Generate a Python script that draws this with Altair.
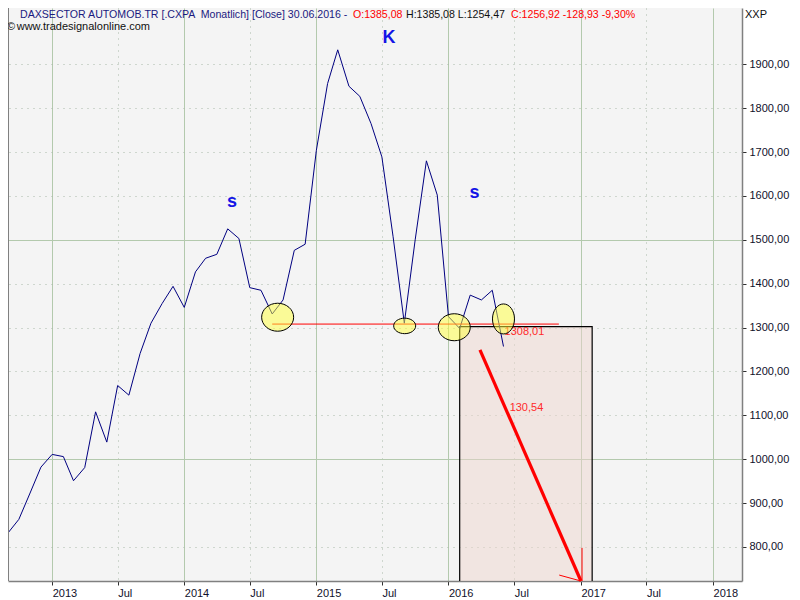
import altair as alt
import pandas as pd

# ---------------- data ----------------
MONTHS = pd.date_range("2012-09-01", "2016-06-01", freq="MS")
CLOSE = [832, 863, 923, 982, 1011, 1006, 951, 981, 1108, 1039, 1168, 1146,
         1241, 1310, 1355, 1394, 1346, 1427, 1458, 1467, 1525, 1503, 1391, 1385,
         1331, 1363, 1476, 1490, 1704, 1856, 1933, 1850, 1827, 1765, 1689, 1507,
         1310, 1500, 1680, 1602, 1325, 1298, 1374, 1363, 1385.08, 1256.92]

LEVEL_VALUE = 1308.01
LEVEL_SPAN = ["2014-09-01", "2016-11-01"]

BOX_SPAN = ["2016-02-01", "2017-02-01"]
BOX_VALUES = [1302, 650]

ARROW_DATES = ["2016-03-28", "2017-01-01"]
ARROW_VALUES = [1249, 722.5]
BARB_FROM_DATES = ["2017-01-01", "2017-01-04"]
BARB_FROM_VALUES = [722.5, 722.5]
BARB_TO_DATES = ["2016-11-02", "2017-01-04"]
BARB_TO_VALUES = [736, 798]

ELLIPSE_DATES = ["2014-09-16", "2015-09-02", "2016-01-17", "2016-06-01"]
ELLIPSE_VALUES = [1323.6, 1303.8, 1300.8, 1319.7]

PATTERN_LABELS = ["s", "K", "s"]
PATTERN_DATES = ["2014-05-13", "2015-07-21", "2016-03-13"]
PATTERN_VALUES = [1586, 1959, 1607]

VALUE_LABELS = ["1308,01", "130,54"]
VALUE_LABEL_DATES = ["2016-06-04", "2016-06-18"]
VALUE_LABEL_VALUES = [1291, 1116]

Y_TICKS = list(range(800, 2000, 100))
X_TICK_YEARS = [2013, 2014, 2015, 2016, 2017, 2018]

HEADER_PARTS = ["DAXSECTOR AUTOMOB.TR [.CXPA \u00a0Monatlich] [Close] 30.06.2016 -",
                "O:1385,08", "H:1385,08 L:1254,47", "C:1256,92 -128,93 -9,30%"]
COPYRIGHT = ["\u00a9", "www.tradesignalonline.com"]
UNIT_LABEL = "XXP"

# ---------------- styling ----------------
FONT = "Liberation Sans"
W, H = 734, 573

x_values = []
for yr in X_TICK_YEARS:
    x_values.append(alt.DateTime(year=yr, month=1, date=1))
    if yr < 2018:
        x_values.append(alt.DateTime(year=yr, month=7, date=1))

XSCALE = alt.Scale(domain=[alt.DateTime(year=2012, month=9, date=1),
                           alt.DateTime(year=2018, month=3, date=22)])
YSCALE = alt.Scale(domain=[722.5, 2028.3], nice=False, zero=False)

SOLID = "#b3c9ad"
DOTS = "#a9b9a9"

XAXIS = alt.Axis(
    values=x_values, title=None,
    labelExpr="month(datum.value) == 0 ? timeFormat(datum.value, '%Y') : 'Jul'",
    labelAlign="left", labelBaseline="top", labelPadding=2, labelOffset=0,
    labelFont=FONT, labelFontSize=11, labelColor="#10102a", labelFlush=False,
    labelOverlap=False,
    tickSize=4, tickColor="#303030", tickWidth=1,
    domainColor="#808080", domainWidth=1.5,
    grid=True, gridWidth=1,
    gridColor={"condition": {"test": "month(datum.value) == 0", "value": SOLID}, "value": DOTS},
    gridDash={"condition": {"test": "month(datum.value) == 0", "value": []}, "value": [1, 5]},
)
YAXIS = alt.Axis(
    orient="right", values=Y_TICKS, title=None,
    labelExpr="replace(format(datum.value, '.2f'), '.', ',')",
    labelFont=FONT, labelFontSize=11, labelColor="#10102a", labelPadding=3,
    labelFlush=False, labelOverlap=False,
    tickSize=4, tickColor="#303030", tickWidth=1,
    domainColor="#808080", domainWidth=1.5,
    grid=True, gridWidth=1,
    gridColor={"condition": {"test": "datum.value % 500 == 0", "value": SOLID}, "value": DOTS},
    gridDash={"condition": {"test": "datum.value % 500 == 0", "value": []}, "value": [1, 5]},
)


def X(field):
    return alt.X(f"{field}:T", scale=XSCALE, axis=XAXIS)


def Y(field):
    return alt.Y(f"{field}:Q", scale=YSCALE, axis=YAXIS)


def ellipse_path(w, h):
    r = h / w
    k = 0.5523
    return (f"M 1 0 C 1 {k*r:.4f} {k} {r:.4f} 0 {r:.4f} "
            f"C {-k} {r:.4f} -1 {k*r:.4f} -1 0 "
            f"C -1 {-k*r:.4f} {-k} {-r:.4f} 0 {-r:.4f} "
            f"C {k} {-r:.4f} 1 {-k*r:.4f} 1 0 Z")


layers = []

# shaded projection box
box_df = pd.DataFrame({"x1": [pd.Timestamp(BOX_SPAN[0])], "x2": [pd.Timestamp(BOX_SPAN[1])],
                       "y1": [BOX_VALUES[0]], "y2": [BOX_VALUES[1]]})
layers.append(alt.Chart(box_df).mark_rect(fill="#eed6cd", fillOpacity=0.5, stroke="#000000",
                                          strokeWidth=1.2, clip=True).encode(
    x=X("x1"), x2="x2", y=Y("y1"), y2="y2"))

# price line
line_df = pd.DataFrame({"date": MONTHS, "value": CLOSE})
layers.append(alt.Chart(line_df).mark_line(color="#000080", strokeWidth=1).encode(
    x=X("date"), y=Y("value")))

# neckline
lvl_df = pd.DataFrame({"x1": [pd.Timestamp(LEVEL_SPAN[0])], "x2": [pd.Timestamp(LEVEL_SPAN[1])],
                       "v": [LEVEL_VALUE]})
layers.append(alt.Chart(lvl_df).mark_rule(color="#ff0000", strokeWidth=1).encode(
    x=X("x1"), x2="x2", y=Y("v")))

# numeric labels
vl_df = pd.DataFrame({"date": pd.to_datetime(VALUE_LABEL_DATES), "value": VALUE_LABEL_VALUES,
                      "t": VALUE_LABELS})
layers.append(alt.Chart(vl_df).mark_text(align="left", baseline="middle", font=FONT,
                                         fontSize=11, color="#ff2a2a").encode(
    x=X("date"), y=Y("value"), text="t:N"))

# ellipses
ELLIPSE_SIZES = [(32, 28), (22, 15.5), (32, 27), (22, 30)]
for d, v, (w, h) in zip(ELLIPSE_DATES, ELLIPSE_VALUES, ELLIPSE_SIZES):
    edf = pd.DataFrame({"date": [pd.Timestamp(d)], "value": [v]})
    layers.append(alt.Chart(edf).mark_point(
        shape=ellipse_path(w, h), size=w * w, filled=True, fill="#ffff3a", fillOpacity=0.5,
        stroke="#000000", strokeWidth=1, strokeOpacity=1, opacity=1).encode(
        x=X("date"), y=Y("value")))

# arrow shaft
arr_df = pd.DataFrame({"x1": [pd.Timestamp(ARROW_DATES[0])], "x2": [pd.Timestamp(ARROW_DATES[1])],
                       "y1": [ARROW_VALUES[0]], "y2": [ARROW_VALUES[1]]})
layers.append(alt.Chart(arr_df).mark_rule(color="#ff0000", strokeWidth=3.2).encode(
    x=X("x1"), x2="x2", y=Y("y1"), y2="y2"))

# arrow barbs
barb_df = pd.DataFrame({"x1": pd.to_datetime(BARB_FROM_DATES), "x2": pd.to_datetime(BARB_TO_DATES),
                        "y1": BARB_FROM_VALUES, "y2": BARB_TO_VALUES})
layers.append(alt.Chart(barb_df).mark_rule(color="#ff0000", strokeWidth=1).encode(
    x=X("x1"), x2="x2", y=Y("y1"), y2="y2"))

# pattern letters
pat_df = pd.DataFrame({"date": pd.to_datetime(PATTERN_DATES), "value": PATTERN_VALUES,
                       "t": PATTERN_LABELS})
layers.append(alt.Chart(pat_df).mark_text(align="center", baseline="middle", font=FONT,
                                          fontSize=18, fontWeight="bold", color="#1414e6").encode(
    x=X("date"), y=Y("value"), text="t:N"))

# left border
layers.append(alt.Chart(pd.DataFrame({"a": [0]})).mark_rule(color="#808080", strokeWidth=1).encode(
    x=alt.value(0.5), y=alt.value(0), y2=alt.value(H)))

# header texts (pixel placed)
header_x = [12, 345, 398, 503]
header_col = ["#1a1a80", "#ff0000", "#101010", "#ff0000"]
for txt, px, col in zip(HEADER_PARTS, header_x, header_col):
    layers.append(alt.Chart(pd.DataFrame({"t": [txt]})).mark_text(
        align="left", baseline="alphabetic", font=FONT, fontSize=10.6, color=col).encode(
        x=alt.value(px), y=alt.value(9.5), text="t:N"))

for txt, px in zip(COPYRIGHT, [-1, 8.7]):
    layers.append(alt.Chart(pd.DataFrame({"t": [txt]})).mark_text(
        align="left", baseline="alphabetic", font=FONT, fontSize=11, color="#101010").encode(
        x=alt.value(px), y=alt.value(22), text="t:N"))

layers.append(alt.Chart(pd.DataFrame({"t": [UNIT_LABEL]})).mark_text(
    align="left", baseline="alphabetic", font=FONT, fontSize=11, color="#101010").encode(
    x=alt.value(737), y=alt.value(9.5), text="t:N"))

chart = alt.layer(*layers).properties(
    width=W, height=H,
    autosize=alt.AutoSizeParams(type="none"),
    padding={"left": 0, "top": 0, "right": 50, "bottom": 19},
    background="#ffffff",
).configure_view(fill="#f4f4f4", stroke=None)

chart.save("out.html", embed_options={"renderer": "svg", "actions": False})
